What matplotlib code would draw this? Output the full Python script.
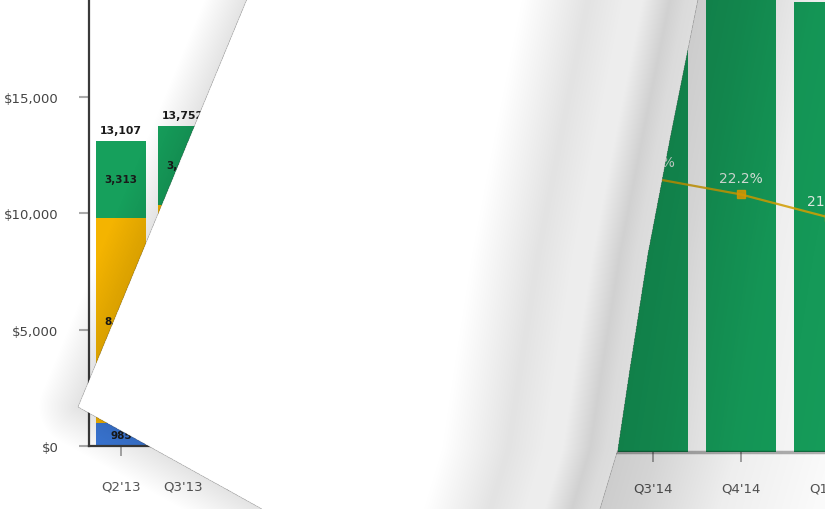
import numpy as np
import matplotlib
matplotlib.use("Agg")
import matplotlib.pyplot as plt
from matplotlib.path import Path

# Front page (stacked bars, partly hidden by the page curl)
front_quarters = ["Q2'13", "Q3'13"]
front_blue = [985, 1020]
front_yellow = [8809, 9330]
front_green = [3313, 3402]
front_tick_labels = ["Q2'13", "Q3'13", "Q4'13", "Q1'14", "Q2'14", "Q3'14", "Q4'14"]
y_ticks = [0, 5000, 10000, 15000]

# Next page (zoomed bars + margin line)
next_quarters = ["Q3'14", "Q4'14", "Q1'15"]
next_totals = [15300, 15900, 13900]
next_margin = [22.9, 22.2, 21.2]

GREEN = "#16a05c"
YELLOW = "#f4b400"
BLUE = "#3b78d8"

W, H = 825, 510
fig = plt.figure(figsize=(W / 100, H / 100), dpi=100)
fig.patch.set_facecolor("white")
plt.rcParams["font.family"] = ["DejaVu Sans"]

# ---- next page ----
# the axes runs past the right edge of the canvas so that Q1'15 is only partly shown
NW = 1000
ax_next = fig.add_axes([0, (H - 453) / H, NW / W, 453 / H])
ax_next.set_zorder(0)
ax_next.set_facecolor("white")
xn = np.arange(len(next_quarters))
ax_next.bar(xn, next_totals, width=0.8, color=GREEN, zorder=1)
for s in ["top", "right", "left"]:
    ax_next.spines[s].set_visible(False)
ax_next.spines["bottom"].set_color((0, 0, 0, 0.3))
ax_next.spines["bottom"].set_linewidth(2.5)
ax_next.spines["bottom"].set_bounds(-0.6, 2.6)
ax_next.set_yticks([])
ax_next.set_xticks(xn)
ax_next.set_xticklabels(next_quarters, fontsize=9.5, color="#555555")
ax_next.tick_params(axis="x", length=7, width=1.2, color="#999999", pad=14)

ax_pct = ax_next.twinx()
ax_pct.plot(xn, next_margin, color="#e0a800", alpha=0.85, lw=1.6, marker="s",
            ms=6, mfc="#f2a900", mec="#f2a900")
for i, v in enumerate(next_margin):
    ax_pct.annotate(f"{v:.1f}%", (i, v), xytext=(0, 12), textcoords="offset points",
                    ha="center", va="center", fontsize=10, color="#e8f4ec")
ax_pct.set_ylim(11, 30.7)
ax_pct.axis("off")
# limits last, so the twin's autoscale does not move them
ax_next.set_xlim((0 - 653) / 88, (NW - 653) / 88)
ax_next.set_ylim(0, 14000)

# ---- front page ----
ax = fig.add_axes([89 / W, (H - 447) / H, (W - 89) / W, 447 / H])
ax.set_zorder(1)
ax.set_facecolor("none")
xf = np.arange(len(front_quarters))
b1 = np.array(front_blue)
b2 = b1 + np.array(front_yellow)
tot = b2 + np.array(front_green)
ax.bar(xf, front_blue, width=0.8, color=BLUE)
ax.bar(xf, front_yellow, width=0.8, bottom=b1, color=YELLOW)
ax.bar(xf, front_green, width=0.8, bottom=b2, color=GREEN)
for i in range(len(xf)):
    ax.text(i, front_blue[i] / 2, f"{front_blue[i]:,}", ha="center", va="center",
            fontsize=7.5, fontweight="bold", color="#1a1a1a")
    ax.text(i, b1[i] + front_yellow[i] / 2, f"{front_yellow[i]:,}", ha="center",
            va="center", fontsize=7.5, fontweight="bold", color="#1a1a1a")
    ax.text(i, b2[i] + front_green[i] / 2, f"{front_green[i]:,}", ha="center",
            va="center", fontsize=7.5, fontweight="bold", color="#1a1a1a")
    ax.text(i, tot[i] + 250, f"{tot[i]:,}", ha="center", va="bottom",
            fontsize=7.8, fontweight="bold", color="#1a1a1a")
for s in ["top", "right"]:
    ax.spines[s].set_visible(False)
for s in ["left", "bottom"]:
    ax.spines[s].set_color("#3a3a3a")
    ax.spines[s].set_linewidth(1.6)
ax.spines["bottom"].set_bounds((89 - 121) / 62, 6.5)
ax.set_yticks(y_ticks)
ax.set_yticklabels([f"${v:,}" for v in y_ticks], fontsize=9.5, color="#444444")
ax.set_xticks(np.arange(len(front_tick_labels)))
ax.set_xticklabels(front_tick_labels, fontsize=9.5, color="#555555")
ax.tick_params(axis="y", length=7, width=1.5, color="#aaaaaa", pad=15)
ax.tick_params(axis="x", length=7, width=1.2, color="#999999", pad=17)
ax.set_xlim((89 - 121) / 62, (W - 121) / 62)
ax.set_ylim(0, 19200)

# ---- page curl overlay (pixel coords, 2x supersampled) ----
ax_over = fig.add_axes([0, 0, 1, 1])
ax_over.set_zorder(5)
ax_over.set_xlim(0, W)
ax_over.set_ylim(H, 0)
ax_over.axis("off")

tip = (78, 408)
fold_top = (247, 0)
low_end = (262, 510)
edge_y = [0, 130, 255, 370, 450, 510]
edge_x = [698, 672, 648, 630, 618, 600]
curl_pts = [tip, fold_top] + list(zip(edge_x, edge_y)) + [low_end]

S = 2
yy, xx = np.mgrid[0:H * S, 0:W * S].astype(float)
yy = (yy + 0.5) / S
xx = (xx + 0.5) / S
x_edge = np.interp(yy, edge_y, edge_x)
inside = Path(curl_pts).contains_points(
    np.column_stack([xx.ravel(), yy.ravel()])).reshape(xx.shape)


def seg_dist(p, q):
    px, py = p
    qx, qy = q
    dx, dy = qx - px, qy - py
    t = np.clip(((xx - px) * dx + (yy - py) * dy) / (dx * dx + dy * dy), 0, 1)
    return np.hypot(xx - (px + t * dx), yy - (py + t * dy))


rgba = np.zeros(xx.shape + (4,))
right = (~inside) & (xx > x_edge)
front = (~inside) & (xx <= x_edge)

# curl back side shading
L = np.interp(x_edge - xx, [0, 12, 28, 55, 75, 110, 175], [0.87, 0.86, 0.82, 0.93, 0.93, 0.89, 1.0])
rgba[inside, 0] = L[inside]
rgba[inside, 1] = L[inside]
rgba[inside, 2] = L[inside]
rgba[inside, 3] = 1.0

# shadow on the next page
a_next = np.interp(xx - x_edge, [0, 40, 120, 220], [0.2, 0.17, 0.07, 0.02])
rgba[right, 3] = a_next[right]

# shadow on the front page along the fold
d = np.minimum(seg_dist(tip, fold_top), seg_dist(tip, low_end))
a_front = 0.11 * np.clip(1 - d / 40, 0, 1)
rgba[front, 3] = a_front[front]

ax_over.imshow(rgba, extent=(0, W, H, 0), interpolation="antialiased", aspect="auto")

fig.savefig("out.png", dpi=100)
